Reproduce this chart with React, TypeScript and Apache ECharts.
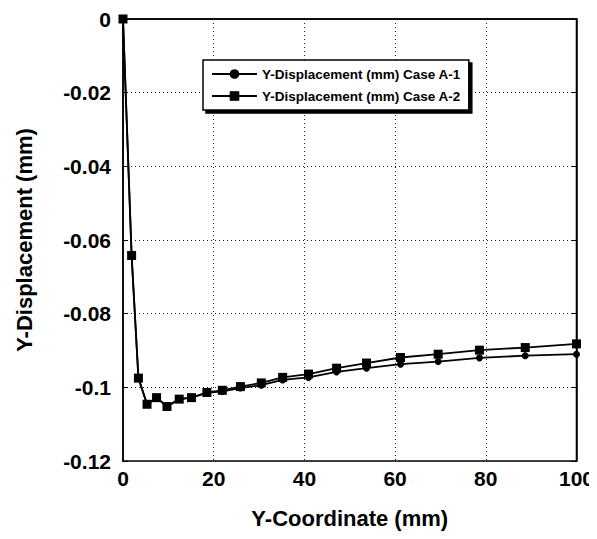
import React, { useEffect, useRef } from "react";
import * as echarts from "echarts";

const xCoords = [0, 1.9, 3.4, 5.3, 7.4, 9.7, 12.4, 15.1, 18.5, 21.9, 25.9, 30.5, 35.2, 40.9, 47.1, 53.7, 61.2, 69.5, 78.6, 88.7, 100];
const caseA1 = [0, -0.0642, -0.0975, -0.1046, -0.1028, -0.1052, -0.1032, -0.1028, -0.1015, -0.1011, -0.1002, -0.0994, -0.098, -0.0973, -0.0958, -0.0948, -0.0937, -0.093, -0.092, -0.0914, -0.091];
const caseA2 = [0, -0.0642, -0.0975, -0.1046, -0.1028, -0.1052, -0.1032, -0.1028, -0.1014, -0.1008, -0.0998, -0.0988, -0.0973, -0.0964, -0.0948, -0.0934, -0.0919, -0.091, -0.0899, -0.0892, -0.0882];
const seriesNames = ["Y-Displacement (mm) Case A-1", "Y-Displacement (mm) Case A-2"];
const xTitle = "Y-Coordinate (mm)";
const yTitle = "Y-Displacement (mm)";

const FONT = "'Liberation Sans', Arial, sans-serif";

export default function App() {
  const ref = useRef<HTMLDivElement>(null);
  useEffect(() => {
    if (!ref.current) return;
    const chart = echarts.init(ref.current, null, { renderer: "svg" });
    const pairs = (ys: number[]) => xCoords.map((x, i) => [x, ys[i]]);
    const tickLabel = { color: "#000", fontFamily: FONT, fontWeight: "bold" as const, fontSize: 21 };
    chart.setOption({
      animation: false,
      backgroundColor: "#fff",
      grid: { left: 123, right: 19, top: 19, bottom: 78, show: true, borderColor: "#000", borderWidth: 1.5, backgroundColor: "transparent" },
      legend: {
        orient: "vertical",
        left: 203,
        top: 60,
        padding: [7, 8, 7, 8],
        itemGap: 8,
        itemWidth: 45,
        itemHeight: 12,
        backgroundColor: "#fff",
        borderColor: "#000",
        borderWidth: 1.5,
        shadowColor: "#000",
        shadowBlur: 0,
        shadowOffsetX: 3,
        shadowOffsetY: 3,
        textStyle: { color: "#000", fontFamily: FONT, fontSize: 13.5, fontWeight: "bold" },
        data: seriesNames,
      },
      xAxis: {
        type: "value",
        min: 0,
        max: 100,
        interval: 20,
        name: xTitle,
        nameLocation: "middle",
        nameGap: 46,
        nameTextStyle: { color: "#000", fontFamily: FONT, fontWeight: "bold", fontSize: 22 },
        axisLine: { show: true, lineStyle: { color: "#000", width: 1.5 } },
        axisTick: { show: false },
        axisLabel: { ...tickLabel, margin: 7 },
        splitLine: { show: true, lineStyle: { color: "#222", width: 1, type: [1, 3] } },
      },
      yAxis: [
        {
          type: "value",
          min: -0.12,
          max: 0,
          interval: 0.02,
          name: yTitle,
          nameLocation: "middle",
          nameGap: 88,
          nameTextStyle: { color: "#000", fontFamily: FONT, fontWeight: "bold", fontSize: 22 },
          axisLine: { show: true, lineStyle: { color: "#000", width: 1.5 } },
          axisTick: { show: true, inside: true, length: 5, lineStyle: { color: "#000" } },
          axisLabel: { ...tickLabel, margin: 12 },
          splitLine: { show: true, lineStyle: { color: "#222", width: 1, type: [1, 3] } },
        },
        {
          type: "value",
          min: -0.12,
          max: 0,
          interval: 0.02,
          position: "right",
          axisLine: { show: true, lineStyle: { color: "#000", width: 1.5 } },
          axisTick: { show: true, inside: true, length: 5, lineStyle: { color: "#000" } },
          axisLabel: { show: false },
          splitLine: { show: false },
        },
      ],
      series: [
        {
          name: seriesNames[0],
          type: "line",
          data: pairs(caseA1),
          symbol: "circle",
          symbolSize: 7,
          itemStyle: { color: "#000" },
          lineStyle: { color: "#000", width: 1.8 },
        },
        {
          name: seriesNames[1],
          type: "line",
          data: pairs(caseA2),
          symbol: "rect",
          symbolSize: 9,
          itemStyle: { color: "#000" },
          lineStyle: { color: "#000", width: 1.8 },
        },
      ],
    });
    return () => chart.dispose();
  }, []);
  return <div ref={ref} style={{ width: 597, height: 539, margin: -8 }} />;
}
